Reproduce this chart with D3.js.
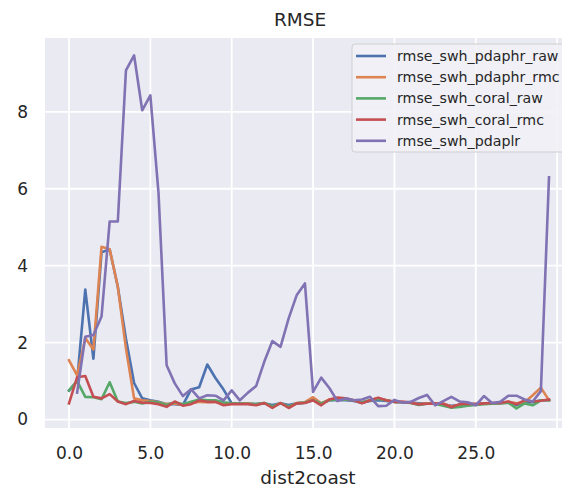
<!DOCTYPE html>
<html>
<head>
<meta charset="utf-8">
<script src="https://cdn.jsdelivr.net/npm/d3@7"></script>
<style>
  body { margin: 0; background: #fff; }
  svg { display: block; font-family: "DejaVu Sans", sans-serif; }
</style>
</head>
<body>
<svg id="chart" width="562" height="490"></svg>
<script>
// dist2coast, one row every 0.5
var dist2coast = d3.range(60).map(function (i) { return i * 0.5; });

var pdaphrRaw = [0.75, 1.0, 3.38, 1.58, 4.35, 4.42, 3.45, 2.1, 0.95, 0.55,
  0.5, 0.46, 0.4, 0.4, 0.38, 0.78, 0.84, 1.43, 1.08, 0.78,
  0.42, 0.42, 0.41, 0.4, 0.42, 0.38, 0.42, 0.38, 0.42, 0.44,
  0.5, 0.42, 0.5, 0.5, 0.5, 0.48, 0.44, 0.48, 0.5, 0.48,
  0.46, 0.45, 0.44, 0.42, 0.42, 0.42, 0.4, 0.36, 0.38, 0.4,
  0.4, 0.42, 0.42, 0.43, 0.44, 0.38, 0.45, 0.45, 0.5, 0.5];
var pdaphrRmc = [1.54, 1.15, 2.12, 1.82, 4.49, 4.43, 3.45, 1.85, 0.55, 0.5,
  0.48, 0.45, 0.4, 0.42, 0.38, 0.42, 0.46, 0.45, 0.46, 0.4,
  0.42, 0.41, 0.42, 0.39, 0.43, 0.33, 0.43, 0.33, 0.43, 0.45,
  0.58, 0.42, 0.52, 0.55, 0.52, 0.5, 0.44, 0.5, 0.55, 0.5,
  0.46, 0.46, 0.44, 0.4, 0.42, 0.42, 0.42, 0.34, 0.38, 0.4,
  0.4, 0.42, 0.42, 0.43, 0.46, 0.42, 0.45, 0.63, 0.83, 0.5];
var coralRaw = [0.76, 1.0, 0.59, 0.58, 0.53, 0.97, 0.47, 0.43, 0.46, 0.42,
  0.46, 0.44, 0.38, 0.45, 0.4, 0.46, 0.52, 0.5, 0.5, 0.45,
  0.42, 0.42, 0.41, 0.4, 0.43, 0.34, 0.42, 0.34, 0.42, 0.44,
  0.5, 0.42, 0.5, 0.52, 0.52, 0.5, 0.45, 0.5, 0.54, 0.5,
  0.46, 0.45, 0.43, 0.38, 0.41, 0.41, 0.36, 0.31, 0.33, 0.36,
  0.38, 0.4, 0.41, 0.42, 0.44, 0.29, 0.42, 0.37, 0.5, 0.5];
var coralRmc = [0.42, 1.1, 1.13, 0.59, 0.55, 0.66, 0.47, 0.4, 0.48, 0.44,
  0.43, 0.4, 0.33, 0.47, 0.36, 0.4, 0.5, 0.46, 0.46, 0.37,
  0.4, 0.4, 0.4, 0.37, 0.43, 0.3, 0.43, 0.3, 0.42, 0.43,
  0.5, 0.37, 0.52, 0.57, 0.55, 0.5, 0.42, 0.5, 0.57, 0.5,
  0.46, 0.46, 0.44, 0.39, 0.41, 0.42, 0.41, 0.32, 0.4, 0.41,
  0.4, 0.42, 0.43, 0.43, 0.47, 0.4, 0.5, 0.47, 0.49, 0.52];
var pdaplr = [NaN, 0.7, 2.15, 2.2, 2.68, 5.15, 5.15, 9.08, 9.47, 8.04,
  8.43, 5.9, 1.41, 0.94, 0.61, 0.79, 0.55, 0.63, 0.62, 0.5,
  0.76, 0.5, 0.7, 0.87, 1.5, 2.04, 1.89, 2.63, 3.24, 3.54,
  0.72, 1.09, 0.82, 0.48, 0.55, 0.5, 0.52, 0.59, 0.35, 0.36,
  0.51, 0.44, 0.46, 0.56, 0.64, 0.37, 0.48, 0.59, 0.47, 0.45,
  0.37, 0.61, 0.43, 0.46, 0.62, 0.62, 0.52, 0.47, 0.74, 6.3];

var seriesNames = ['rmse_swh_pdaphr_raw', 'rmse_swh_pdaphr_rmc', 'rmse_swh_coral_raw',
  'rmse_swh_coral_rmc', 'rmse_swh_pdaplr'];
var seriesValues = [pdaphrRaw, pdaphrRmc, coralRaw, coralRmc, pdaplr];
var xTicks = [0, 5, 10, 15, 20, 25, 30];
var xTickLabels = ['0.0', '5.0', '10.0', '15.0', '20.0', '25.0', ''];
var yTicks = [0, 2, 4, 6, 8];

var colors = ['#4C72B0', '#DD8452', '#55A868', '#C44E52', '#8172B3'];
var plotLeft = 45, plotRight = 573, plotTop = 38, plotBottom = 428;

var svg = d3.select('#chart');
var x = d3.scaleLinear().domain([-1.475, 30.975]).range([plotLeft, plotRight]);
var y = d3.scaleLinear().domain([-0.22, 9.92]).range([plotBottom, plotTop]);

svg.append('rect')
    .attr('x', plotLeft).attr('y', plotTop)
    .attr('width', plotRight - plotLeft).attr('height', plotBottom - plotTop)
    .attr('fill', '#EAEAF2');

// grid
var grid = svg.append('g').attr('stroke', '#fff').attr('stroke-width', 1.8);
grid.selectAll('.vg').data(xTicks).enter().append('line')
    .attr('x1', function (d) { return x(d); }).attr('x2', function (d) { return x(d); })
    .attr('y1', plotTop).attr('y2', plotBottom);
grid.selectAll('.hg').data(yTicks).enter().append('line')
    .attr('y1', function (d) { return y(d); }).attr('y2', function (d) { return y(d); })
    .attr('x1', plotLeft).attr('x2', plotRight);

// axes via d3, then strip the domain / tick marks
var xAxis = svg.append('g')
    .attr('transform', 'translate(0,' + plotBottom + ')')
    .call(d3.axisBottom(x).tickValues(xTicks).tickSize(0).tickPadding(19)
        .tickFormat(function (d, i) { return xTickLabels[i]; }));
var yAxis = svg.append('g')
    .attr('transform', 'translate(' + plotLeft + ',0)')
    .call(d3.axisLeft(y).tickValues(yTicks).tickSize(0).tickPadding(17));
[xAxis, yAxis].forEach(function (a) {
    a.select('.domain').remove();
    a.selectAll('text')
        .attr('fill', '#262626')
        .style('font-size', '17px')
        .style('font-family', '"DejaVu Sans", sans-serif');
});

var line = d3.line()
    .defined(function (d) { return !isNaN(d.v); })
    .x(function (d) { return x(d.x); })
    .y(function (d) { return y(d.v); });

var lines = svg.append('g');
seriesValues.forEach(function (vals, k) {
    var pts = vals.map(function (v, i) { return { x: dist2coast[i], v: v }; });
    lines.append('path')
        .attr('d', line(pts))
        .attr('fill', 'none')
        .attr('stroke', colors[k])
        .attr('stroke-width', 2.6)
        .attr('stroke-linejoin', 'round')
        .attr('stroke-linecap', 'square');
});

// legend
var lg = svg.append('g').attr('transform', 'translate(352,44)');
lg.append('rect')
    .attr('width', 222).attr('height', 108).attr('rx', 3)
    .attr('fill', '#F1F1F6').attr('fill-opacity', 0.9)
    .attr('stroke', '#D0D0D0').attr('stroke-width', 1);
seriesNames.forEach(function (name, k) {
    var ly = 12 + k * 21.2;
    lg.append('line')
        .attr('x1', 4).attr('x2', 34).attr('y1', ly).attr('y2', ly)
        .attr('stroke', colors[k]).attr('stroke-width', 2.6);
    lg.append('text')
        .attr('x', 45).attr('y', ly + 5)
        .attr('fill', '#262626')
        .style('font-size', '14.2px')
        .text(name);
});

svg.append('text')
    .attr('x', 300).attr('y', 26)
    .attr('text-anchor', 'middle')
    .attr('fill', '#262626')
    .style('font-size', '18.5px')
    .text('RMSE');

svg.append('text')
    .attr('x', 308).attr('y', 484)
    .attr('text-anchor', 'middle')
    .attr('fill', '#262626')
    .style('font-size', '18.5px')
    .text('dist2coast');
</script>
</body>
</html>
